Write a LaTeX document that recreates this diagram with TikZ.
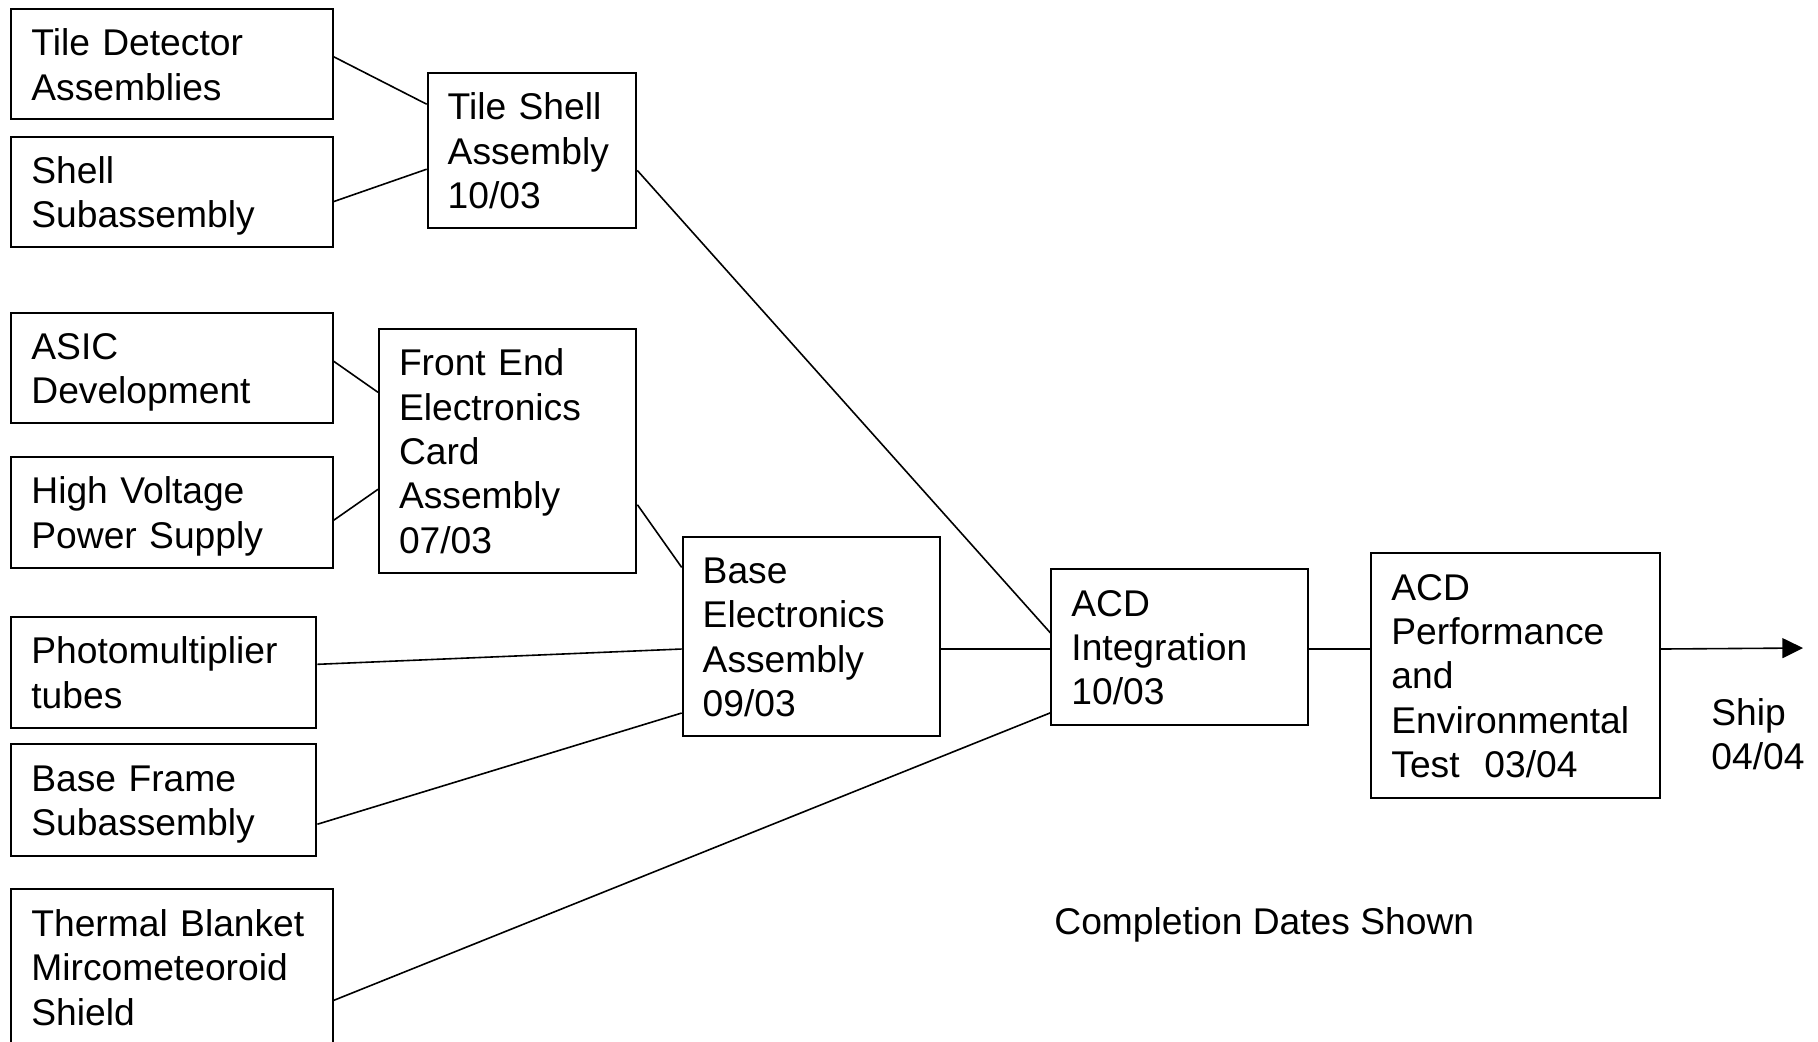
\documentclass[tikz,border=0pt]{standalone}
\usepackage{fontspec}
\setmainfont{Liberation Sans}
\usetikzlibrary{arrows.meta}
\newcommand\lnstrut{\rule[-3.9pt]{0pt}{21.4pt}}

\begin{document}
\begin{tikzpicture}[x=0.5pt, y=-0.5pt,
  part/.style 2 args={draw, line width=1pt, anchor=north west, align=left, inner xsep=10pt, inner ysep=0pt, text width=#1, minimum height=#2, font=\fontsize{18.6}{22.2}\selectfont, execute at begin node=\lnstrut, execute at end node=\lnstrut},
  note/.style={anchor=west, align=left, inner sep=0pt, font=\fontsize{18.6}{22.2}\selectfont},
  link/.style={line width=0.8pt},
  arr/.style={-{Triangle[length=10.3pt,width=10pt]}, line width=0.8pt}
]
\useasboundingbox (0,0) rectangle (1818,1041);

% inputs
\node[part={140.6pt}{55.1pt}] (tda) at (10.4,8.1) {Tile Detector\\Assemblies};
\node[part={140.6pt}{55pt}] (shell) at (10.4,135.7) {Shell\\Subassembly};
\node[part={140.6pt}{55pt}] (asic) at (10.4,311.9) {ASIC\\Development};
\node[part={140.6pt}{55.7pt}] (hv) at (10.4,455.6) {High Voltage\\Power Supply};
\node[part={132.5pt}{55.7pt}] (pmt) at (10.4,615.6) {Photomultiplier\\tubes};
\node[part={132.5pt}{55.7pt}] (frame) at (10.4,743.2) {Base Frame\\Subassembly};
\node[part={140.6pt}{78pt}] (blanket) at (10.4,888.1) {Thermal Blanket\\Mircometeoroid\\Shield};

% assemblies
\node[part={84.3pt}{77.7pt}] (tsa) at (426.7,71.9) {Tile Shell\\Assembly\\10/03};
\node[part={108.7pt}{121.8pt}] (fee) at (378,328.1) {Front End\\Electronics\\Card\\Assembly\\07/03};
\node[part={108.7pt}{99.8pt}] (bea) at (681.7,535.6) {Base\\Electronics\\Assembly\\09/03};
\node[part={108.1pt}{77.7pt}] (acdi) at (1050.4,568.1) {ACD\\Integration\\10/03};
\node[part={124.4pt}{122.3pt}] (acdp) at (1370.4,551.9) {ACD\\Performance\\and\\Environmental\\Test\ \ 03/04};

\node[note] (ship) at (1711,734) {Ship\\04/04};
\node[note] (dates) at (1054,925) {Completion Dates Shown};
\coordinate (shipend) at (1803,648);

% connectors
\draw[link] ([yshift=3.75pt]tda.east) -- ([yshift=23.2pt]tsa.west);
\draw[link] ([yshift=-4.95pt]shell.east) -- ([yshift=-9.3pt]tsa.west);
\draw[link] ([yshift=-9.9pt]tsa.east) -- ([yshift=6.95pt]acdi.west);
\draw[link] ([yshift=3.35pt]asic.east) -- ([yshift=29.3pt]fee.west);
\draw[link] ([yshift=-4pt]hv.east) -- ([yshift=-19.2pt]fee.west);
\draw[link] ([yshift=-26.9pt]fee.east) -- ([yshift=34.5pt]bea.west);
\draw[link] ([yshift=4pt]pmt.east) -- ([yshift=-6.3pt]bea.west);
\draw[link] ([yshift=-12.15pt]frame.east) -- ([yshift=-38.3pt]bea.west);
\draw[link] ([yshift=-16.65pt]blanket.east) -- ([yshift=-33pt]acdi.west);
\draw[link] ([yshift=-6.3pt]bea.east) -- ([yshift=-6.3pt]bea.east -| acdi.west);
\draw[link] ([yshift=-1.1pt]acdi.east) -- ([yshift=-1.1pt]acdi.east -| acdp.west);
\draw[arr] ([yshift=13.1pt]acdp.east) -- (shipend);

\end{tikzpicture}
\end{document}
